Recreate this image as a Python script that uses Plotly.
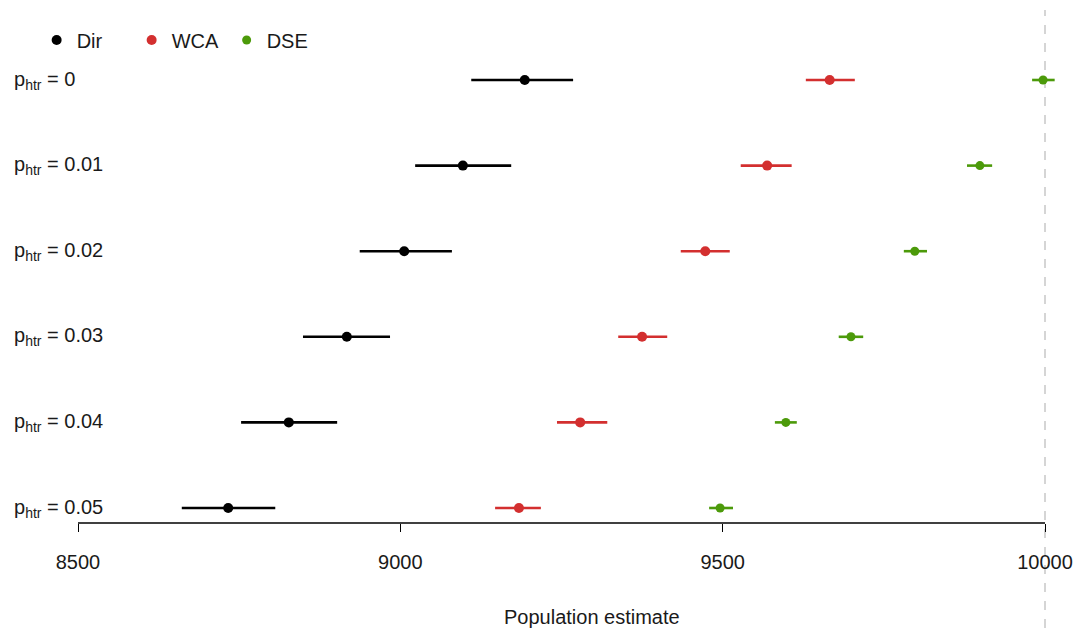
import plotly.graph_objects as go

rows = [0, 1, 2, 3, 4, 5]
row_labels = ["p<sub>htr</sub> = 0", "p<sub>htr</sub> = 0.01", "p<sub>htr</sub> = 0.02",
              "p<sub>htr</sub> = 0.03", "p<sub>htr</sub> = 0.04", "p<sub>htr</sub> = 0.05"]

dir_est = [9193, 9097, 9006, 8917, 8827, 8733]
dir_lo = [9110, 9023, 8937, 8849, 8753, 8661]
dir_hi = [9268, 9172, 9080, 8984, 8902, 8806]

wca_est = [9666, 9569, 9473, 9375, 9279, 9184]
wca_lo = [9629, 9528, 9435, 9338, 9243, 9147]
wca_hi = [9705, 9607, 9511, 9414, 9321, 9218]

dse_est = [9997, 9899, 9798, 9699, 9598, 9496]
dse_lo = [9980, 9879, 9781, 9680, 9581, 9479]
dse_hi = [10015, 9918, 9817, 9718, 9615, 9516]

x_ticks = [8500, 9000, 9500, 10000]
true_value = 10000

series = [
    ("Dir", dir_est, dir_lo, dir_hi, "#000000", 10),
    ("WCA", wca_est, wca_lo, wca_hi, "#D32F2F", 10),
    ("DSE", dse_est, dse_lo, dse_hi, "#4C9A0A", 9),
]

FONT = "Liberation Sans, Arial, sans-serif"
TXT = "#1a1a1a"

fig = go.Figure()
for name, est, lo, hi, col, sz in series:
    fig.add_trace(go.Scatter(
        x=est, y=rows, mode="markers", name=name,
        marker=dict(color=col, size=sz),
        error_x=dict(type="data", symmetric=False,
                     array=[h - e for h, e in zip(hi, est)],
                     arrayminus=[e - l for e, l in zip(est, lo)],
                     color=col, thickness=2.6, width=0),
    ))

axis_pos = (628 - 523) / 628

fig.update_layout(
    width=1078, height=628,
    margin=dict(l=0, r=0, t=0, b=0),
    plot_bgcolor="white", paper_bgcolor="white",
    font=dict(family=FONT, size=20, color=TXT),
    showlegend=True,
    legend=dict(orientation="h", x=0.034, y=(628 - 40) / 628, xanchor="left", yanchor="middle",
                font=dict(size=20, color=TXT), entrywidth=50, entrywidthmode="pixels",
                bgcolor="rgba(0,0,0,0)"),
    xaxis=dict(range=[8500 - 78 / 0.6447, 10000 + 33 / 0.6447], anchor="free", position=axis_pos,
               tickvals=x_ticks, ticktext=[str(v) for v in x_ticks],
               ticks="outside", ticklen=8, tickwidth=1, tickcolor="#000",
               ticklabelstandoff=13,
               showgrid=False, zeroline=False, showline=False,
               tickfont=dict(size=20, color=TXT)),
    yaxis=dict(range=[(628 - 80) / 85.6, -80 / 85.6], showticklabels=False, ticks="",
               showgrid=False, zeroline=False, showline=False),
)

for r, lab in zip(rows, row_labels):
    fig.add_annotation(text=lab, xref="paper", yref="y", x=12 / 1078, y=r, showarrow=False,
                       xanchor="left", yanchor="middle", font=dict(size=20, color=TXT))

fig.add_shape(type="line", xref="x", yref="paper", x0=true_value, x1=true_value, y0=0, y1=(628 - 10) / 628,
              line=dict(color="#c8c8c8", width=1.5, dash="dash"), layer="below")
fig.add_shape(type="line", xref="x", yref="paper", x0=x_ticks[0], x1=x_ticks[-1], y0=axis_pos, y1=axis_pos,
              line=dict(color="#000", width=1.3))
fig.add_annotation(text="Population estimate", xref="paper", yref="paper", x=592 / 1078, y=(628 - 617) / 628,
                   showarrow=False, xanchor="center", yanchor="middle", font=dict(size=20, color=TXT))

fig.write_html("out.html")
